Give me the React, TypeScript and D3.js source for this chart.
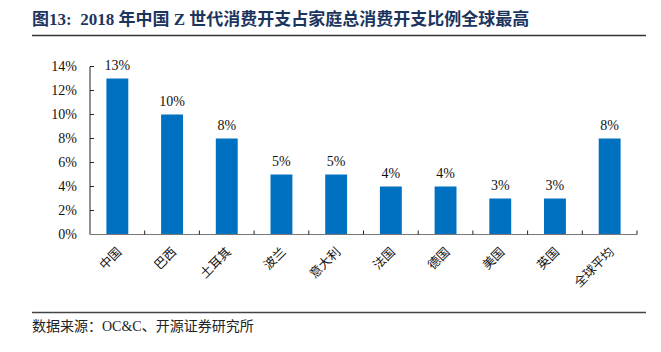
import { useRef, useEffect } from 'react';
import * as d3 from 'd3';

const categories = ['中国', '巴西', '土耳其', '波兰', '意大利', '法国', '德国', '美国', '英国', '全球平均'];
const values = [13, 10, 8, 5, 5, 4, 4, 3, 3, 8];
const yTicks = [0, 2, 4, 6, 8, 10, 12, 14];

const TITLE = '图13:  2018 年中国 Z 世代消费开支占家庭总消费开支比例全球最高';
const SOURCE = '数据来源：OC&C、开源证券研究所';

const SERIF = '"Liberation Serif", "Times New Roman", serif';
const MIXED = '"Liberation Serif", "Noto Sans CJK SC", serif';
const CJK = '"Noto Sans CJK SC", sans-serif';

function App() {
  const svgRef = useRef<SVGSVGElement>(null);

  useEffect(() => {
    const svg = d3.select(svgRef.current);
    svg.selectAll('*').remove();

    const W = 661, H = 352;
    const left = 90, right = 637, top = 66.5, bottom = 234.5;

    svg.attr('width', W).attr('height', H);

    // Title + rule
    svg.append('text')
      .attr('x', 32).attr('y', 25)
      .attr('font-family', MIXED).attr('font-weight', 'bold')
      .attr('font-size', 17).attr('fill', '#1c355e')
      .attr('xml:space', 'preserve')
      .text(TITLE);
    svg.append('line')
      .attr('x1', 32).attr('x2', 646).attr('y1', 35.5).attr('y2', 35.5)
      .attr('stroke', '#333').attr('stroke-width', 1.5);

    const x = d3.scaleBand().domain(categories).range([left, right]).padding(0);
    const y = d3.scaleLinear().domain([0, 14]).range([bottom, top]);
    const barW = x.bandwidth() * 0.4;

    const g = svg.append('g');

    // Bars
    g.selectAll('rect.bar')
      .data(values)
      .enter()
      .append('rect')
      .attr('class', 'bar')
      .attr('x', (d, i) => x(categories[i])! + (x.bandwidth() - barW) / 2)
      .attr('y', d => y(d))
      .attr('width', barW)
      .attr('height', d => bottom - y(d))
      .attr('fill', '#0070c0');

    // Value labels
    g.selectAll('text.val')
      .data(values)
      .enter()
      .append('text')
      .attr('x', (d, i) => x(categories[i])! + x.bandwidth() / 2)
      .attr('y', d => y(d) - 9)
      .attr('text-anchor', 'middle')
      .attr('font-family', SERIF).attr('font-size', 14).attr('fill', '#111')
      .text(d => `${d}%`);

    // Y axis
    g.append('line')
      .attr('x1', left).attr('x2', left).attr('y1', top).attr('y2', bottom)
      .attr('stroke', '#222').attr('stroke-width', 1);
    yTicks.forEach(t => {
      g.append('line')
        .attr('x1', left).attr('x2', left + 4).attr('y1', y(t)).attr('y2', y(t))
        .attr('stroke', '#222');
      g.append('text')
        .attr('x', left - 13).attr('y', y(t)).attr('dy', '0.35em')
        .attr('text-anchor', 'end')
        .attr('font-family', SERIF).attr('font-size', 14).attr('fill', '#111')
        .text(`${t}%`);
    });

    // X axis
    g.append('line')
      .attr('x1', left).attr('x2', right).attr('y1', bottom).attr('y2', bottom)
      .attr('stroke', '#777').attr('stroke-width', 1.2);
    categories.forEach(c => {
      const tx = x(c)! + x.bandwidth();
      g.append('line')
        .attr('x1', tx).attr('x2', tx).attr('y1', bottom).attr('y2', bottom - 4)
        .attr('stroke', '#222');
    });
    categories.forEach(c => {
      const cx = x(c)! + x.bandwidth() / 2 + 2;
      g.append('text')
        .attr('transform', `translate(${cx},${bottom + 15}) rotate(-45)`)
        .attr('text-anchor', 'end')
        .attr('dy', '0.35em')
        .attr('font-family', CJK).attr('font-size', 12.5).attr('fill', '#111')
        .text(c);
    });

    // Footer
    svg.append('line')
      .attr('x1', 32).attr('x2', 646).attr('y1', 312.5).attr('y2', 312.5)
      .attr('stroke', '#444').attr('stroke-width', 1.3);
    svg.append('text')
      .attr('x', 32).attr('y', 331)
      .attr('font-family', MIXED).attr('font-size', 14).attr('fill', '#222')
      .text(SOURCE);
  }, []);

  return <svg ref={svgRef} style={{ position: 'absolute', left: 0, top: 0 }}></svg>;
}

export default App;
